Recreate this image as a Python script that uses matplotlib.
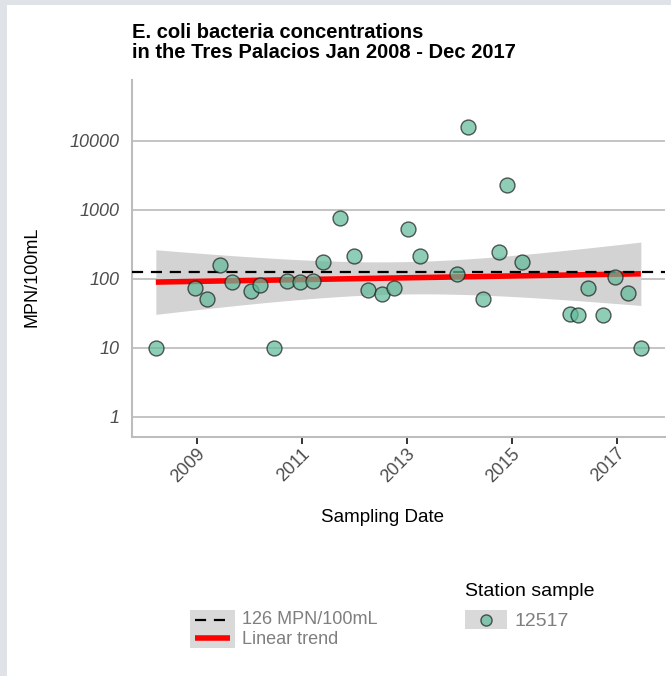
import numpy as np
import matplotlib
matplotlib.use("Agg")
import matplotlib.pyplot as plt
from matplotlib.lines import Line2D
from matplotlib.patches import Rectangle

plt.rcParams['font.family'] = ['Liberation Sans', 'DejaVu Sans']

# ---- data (decimal year, MPN/100mL) ----
sample_year = [2008.22, 2008.96, 2009.20, 2009.44, 2009.68, 2010.03, 2010.20, 2010.48,
               2010.72, 2010.96, 2011.21, 2011.41, 2011.73, 2012.00, 2012.27, 2012.52,
               2012.75, 2013.02, 2013.25, 2013.95, 2014.17, 2014.46, 2014.75, 2014.91,
               2015.20, 2016.11, 2016.26, 2016.45, 2016.74, 2016.96, 2017.22, 2017.46]
ecoli = [10, 72, 50, 158, 89, 67, 82, 10,
         94, 89, 94, 173, 748, 216, 69, 59,
         72, 518, 214, 115, 15800, 50, 242, 2300,
         173, 31, 30, 72, 30, 106, 62, 10]
standard = 126
year_ticks = [2009, 2011, 2013, 2015, 2017]
y_ticks = [1, 10, 100, 1000, 10000]
y_labels = ["1", "10", "100", "1000", "10000"]

x = np.array(sample_year)
ly = np.log10(np.array(ecoli, dtype=float))

# linear trend on log scale with 95% CI (as geom_smooth(method='lm'))
n = len(x)
b1, b0 = np.polyfit(x, ly, 1)
xs = np.linspace(x.min(), x.max(), 200)
fit = b0 + b1 * xs
resid = ly - (b0 + b1 * x)
s = np.sqrt(np.sum(resid ** 2) / (n - 2))
sxx = np.sum((x - x.mean()) ** 2)
se = s * np.sqrt(1.0 / n + (xs - x.mean()) ** 2 / sxx)
tval = 2.042
lo = 10 ** (fit - tval * se)
hi = 10 ** (fit + tval * se)

W, H = 671, 676
fig = plt.figure(figsize=(W / 100, H / 100), dpi=100)
fig.patch.set_facecolor('white')
# light grey frame at left and top
fig.patches.append(Rectangle((0, 0), 7 / W, 1, transform=fig.transFigure,
                             facecolor='#dfe3e7', edgecolor='none', zorder=-10))
fig.patches.append(Rectangle((0, 1 - 5 / H), 1, 5 / H, transform=fig.transFigure,
                             facecolor='#dfe3e7', edgecolor='none', zorder=-10))

L, R, T, B = 131.7, 665, 80, 437.3
ax = fig.add_axes([L / W, 1 - B / H, (R - L) / W, (B - T) / H])
ax.set_yscale('log')
ax.set_xlim(2007.76, 2017.92)
ax.set_ylim(10 ** -0.30, 10 ** 4.88)

grid_col = '#c4c4c4'
for yt in y_ticks:
    ax.axhline(yt, color=grid_col, lw=1.4, zorder=0)

ax.fill_between(xs, lo, hi, color='#d3d3d3', lw=0, zorder=1)
ax.plot(xs, 10 ** fit, color='#ff0000', lw=4.0, solid_capstyle='butt', zorder=2)
ax.axhline(standard, color='black', lw=1.6, dashes=(5, 3.5), zorder=3)
ax.scatter(x, ecoli, s=115, facecolor='#62bb9b', edgecolor='#1e1e1e',
           linewidth=1.0, alpha=0.72, zorder=4)

for sp in ['top', 'right']:
    ax.spines[sp].set_visible(False)
for sp in ['left', 'bottom']:
    ax.spines[sp].set_color('#bdbdbd')
    ax.spines[sp].set_linewidth(1.5)

ax.set_yticks(y_ticks)
ax.set_yticklabels(y_labels, fontsize=13, style='italic', color='#4d4d4d')
ax.yaxis.set_minor_locator(matplotlib.ticker.NullLocator())
ax.tick_params(axis='y', length=0, pad=9)
ax.set_xticks(year_ticks)
ax.set_xticklabels([str(v) for v in year_ticks], fontsize=13, color='#4d4d4d',
                   rotation=45, ha='right', va='top', rotation_mode='anchor')
ax.tick_params(axis='x', length=5, width=1.4, color='#333333', pad=0.5)

ax.set_ylabel('MPN/100mL', fontsize=13, color='black')
ax.yaxis.set_label_coords((32 - L) / (R - L), 0.45)
ax.set_xlabel('Sampling Date', fontsize=13.5, color='black')
ax.xaxis.set_label_coords(0.47, -(518 - B) / (B - T))
ax.xaxis.label.set_va('center')
ax.yaxis.label.set_va('center')

fig.text(132 / W, 1 - 23 / H, 'E. coli bacteria concentrations\nin the Tres Palacios Jan 2008 - Dec 2017',
         fontsize=14.5, fontweight='bold', ha='left', va='top', linespacing=1.08)

# ---- legends (drawn in figure pixels) ----
def fx(px):
    return px / W

def fy(py):
    return 1 - py / H

legtxt = '#7f7f7f'
fig.patches.append(Rectangle((fx(190), fy(648)), (235 - 190) / W, (648 - 610) / H,
                             transform=fig.transFigure, facecolor='#d9d9d9', edgecolor='none'))
fig.lines.append(Line2D([fx(195), fx(230)], [fy(620), fy(620)], transform=fig.transFigure,
                        color='black', lw=1.6, dashes=(5, 3.5)))
fig.lines.append(Line2D([fx(195), fx(230)], [fy(638), fy(638)], transform=fig.transFigure,
                        color='#ff0000', lw=4.0, solid_capstyle='butt'))
fig.text(fx(242), fy(620), '126 MPN/100mL', fontsize=13, color=legtxt, ha='left', va='center')
fig.text(fx(242), fy(640), 'Linear trend', fontsize=13, color=legtxt, ha='left', va='center')

fig.text(fx(465), fy(592), 'Station sample', fontsize=14, color='black', ha='left', va='center')
fig.patches.append(Rectangle((fx(465), fy(629)), (507 - 465) / W, (629 - 610) / H,
                             transform=fig.transFigure, facecolor='#d9d9d9', edgecolor='none'))
fig.lines.append(Line2D([fx(486)], [fy(620)], transform=fig.transFigure, marker='o',
                        markersize=8, markerfacecolor='#62bb9b', markeredgecolor='#1e1e1e',
                        markeredgewidth=1.0, alpha=0.72, linestyle='none'))
fig.text(fx(515), fy(621), '12517', fontsize=14, color=legtxt, ha='left', va='center')

fig.savefig('out.png', dpi=100)
